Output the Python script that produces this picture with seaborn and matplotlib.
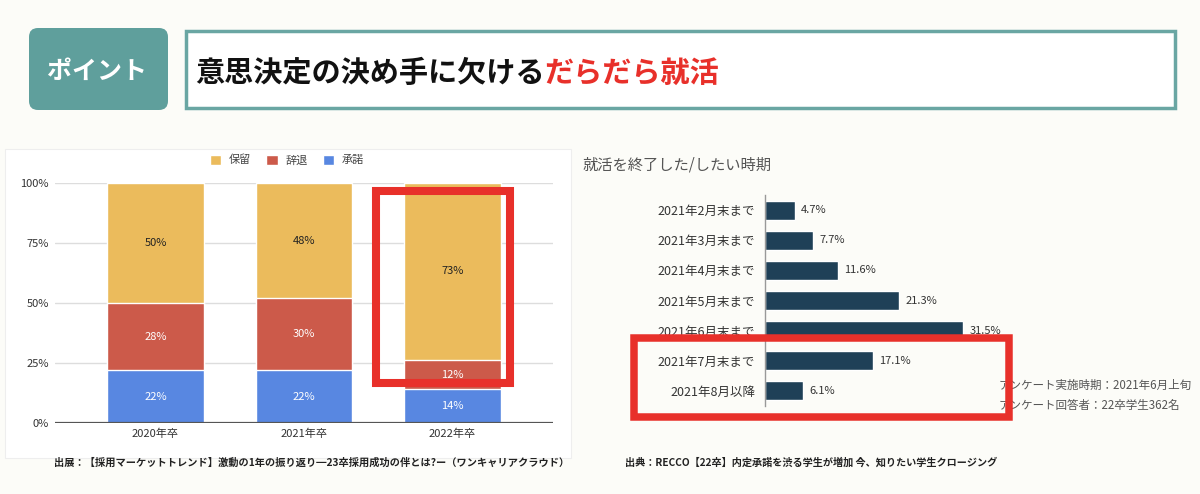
import matplotlib
matplotlib.use("Agg")
import matplotlib.pyplot as plt
from matplotlib.patches import FancyBboxPatch, Rectangle, Patch
import seaborn as sns
import pandas as pd

# left chart: 採用 survey (stacked 100%)
years = ["2020年卒", "2021年卒", "2022年卒"]
accept = [22, 22, 14]     # 承諾
decline = [28, 30, 12]    # 辞退
hold = [50, 48, 73]       # 保留

# right chart: 就活終了時期
periods = ["2021年2月末まで", "2021年3月末まで", "2021年4月末まで", "2021年5月末まで",
           "2021年6月末まで", "2021年7月末まで", "2021年8月以降"]
shares = [4.7, 7.7, 11.6, 21.3, 31.5, 17.1, 6.1]

YELLOW = "#EBBB5C"
RED = "#CC5A4A"
BLUE = "#5887E1"
NAVY = "#1F4057"
TEAL = "#5F9F9C"
HILITE = "#E8302A"

sns.set_style("white")
plt.rcParams["font.family"] = ["Noto Sans CJK JP", "DejaVu Sans"]

W, H = 1200, 494
fig = plt.figure(figsize=(W / 100, H / 100), dpi=100)
fig.patch.set_facecolor("#FCFCF8")

def px_axes(x0, y0, x1, y1):
    return fig.add_axes([x0 / W, 1 - y1 / H, (x1 - x0) / W, (y1 - y0) / H])

# background layer in pixel coords
bg = fig.add_axes([0, 0, 1, 1])
bg.set_xlim(0, W)
bg.set_ylim(H, 0)
bg.axis("off")
bg.set_zorder(-1)

bg.add_patch(FancyBboxPatch((29, 28), 139, 82, boxstyle="round,pad=0,rounding_size=9",
                            fc=TEAL, ec="none"))
bg.text(97, 72, "ポイント", color="white", fontsize=18, fontweight="bold",
        ha="center", va="center")
bg.add_patch(Rectangle((185.5, 31.5), 989, 77, fc="white", ec="#6AA6A3", lw=2.5))
t1 = bg.text(195, 73, "意思決定の決め手に欠ける", fontsize=21, fontweight="bold",
             color="#111111", va="center", ha="left")
bg.annotate("だらだら就活", xy=(1, 0.5), xycoords=t1, va="center", ha="left",
            fontsize=21, fontweight="bold", color=HILITE)

# left panel frame
bg.add_patch(Rectangle((5, 149), 566, 309, fc="white", ec="#EEEEEE", lw=0.8))

# ---- left stacked bar chart ----
df = pd.DataFrame({"year": years, "accept": accept, "decline": decline, "hold": hold})
tot = df[["accept", "decline", "hold"]].sum(axis=1)
df["p_acc"] = df["accept"] / tot
df["p_dec"] = (df["accept"] + df["decline"]) / tot
df["p_all"] = 1.0

ax = px_axes(55, 183, 553, 423)
ax.set_facecolor("white")
for col, c in [("p_all", YELLOW), ("p_dec", RED), ("p_acc", BLUE)]:
    sns.barplot(data=df, x="year", y=col, color=c, saturation=1, width=0.653, ax=ax, zorder=2)
ax.set_xlim(-0.677, 2.677)
ax.set_ylim(0, 1)
ax.set_yticks([0, 0.25, 0.5, 0.75, 1.0])
ax.set_yticklabels(["0%", "25%", "50%", "75%", "100%"])
ax.yaxis.grid(True, color="#DDDDDD", lw=1, zorder=0)
ax.axhline(0, color="#555555", lw=1.6, zorder=3)
for s in ax.spines.values():
    s.set_visible(False)
ax.tick_params(axis="both", length=0, labelsize=8, colors="#333333")
ax.tick_params(axis="x", pad=4)
ax.tick_params(axis="y", pad=4.3)
ax.set_xlabel("")
ax.set_ylabel("")
for i in range(len(df)):
    a, d = df["p_acc"][i], df["p_dec"][i]
    ax.text(i, a / 2, f"{accept[i]}%", ha="center", va="center", color="white", fontsize=8)
    ax.text(i, (a + d) / 2, f"{decline[i]}%", ha="center", va="center", color="white", fontsize=8)
    ax.text(i, (d + 1) / 2, f"{hold[i]}%", ha="center", va="center", color="#222222", fontsize=8)

handles = [Patch(fc=YELLOW), Patch(fc=RED), Patch(fc=BLUE)]
fig.legend(handles, ["保留", "辞退", "承諾"], ncol=3, frameon=False, fontsize=8,
           loc="center", bbox_to_anchor=(287 / W, 1 - 160 / H), handlelength=1.0,
           handleheight=1.0, columnspacing=1.35, handletextpad=0.7, labelcolor="#444444")

# ---- right horizontal bar chart ----
ax2 = px_axes(765, 195, 1000, 406)
sns.barplot(x=shares, y=periods, orient="h", color=NAVY, saturation=1, width=0.63, ax=ax2)
ax2.set_xlim(0, 235 / 6.29)
ax2.set_ylim(6.5, -0.5)
ax2.patch.set_alpha(0)
for k in ["top", "right", "bottom"]:
    ax2.spines[k].set_visible(False)
ax2.spines["left"].set_color("#999999")
ax2.spines["left"].set_linewidth(1)
ax2.set_xticks([])
ax2.tick_params(axis="y", length=0, labelsize=9, colors="#333333", pad=7)
ax2.bar_label(ax2.containers[0], labels=[f"{v}%" for v in shares], padding=4.5,
              fontsize=8, color="#333333")
ax2.set_xlabel("")
ax2.set_ylabel("")

bg.text(582, 165, "就活を終了した/したい時期", fontsize=11, color="#555555",
        ha="left", va="center")
bg.text(999, 385, "アンケート実施時期：2021年6月上旬", fontsize=8.3, color="#555555",
        ha="left", va="center")
bg.text(999, 405, "アンケート回答者：22卒学生362名", fontsize=8.3, color="#555555",
        ha="left", va="center")

# footnotes
bg.text(54, 463, "出展：【採用マーケットトレンド】激動の1年の振り返り━23卒採用成功の伴とは?ー（ワンキャリアクラウド）",
        fontsize=7.35, fontweight="bold", color="#222222", ha="left", va="center")
bg.text(625, 463, "出典：RECCO【22卒】内定承諾を渋る学生が増加 今、知りたい学生クロージング",
        fontsize=7.3, fontweight="bold", color="#222222", ha="left", va="center")

# red highlight boxes on top
top = fig.add_axes([0, 0, 1, 1])
top.set_xlim(0, W)
top.set_ylim(H, 0)
top.axis("off")
top.patch.set_alpha(0)
top.add_patch(Rectangle((376, 191), 134, 192, fill=False, ec=HILITE, lw=5.8))
top.add_patch(Rectangle((633.5, 337.5), 375, 79, fill=False, ec=HILITE, lw=5.4))

fig.savefig("out.png", dpi=100, facecolor=fig.get_facecolor())
